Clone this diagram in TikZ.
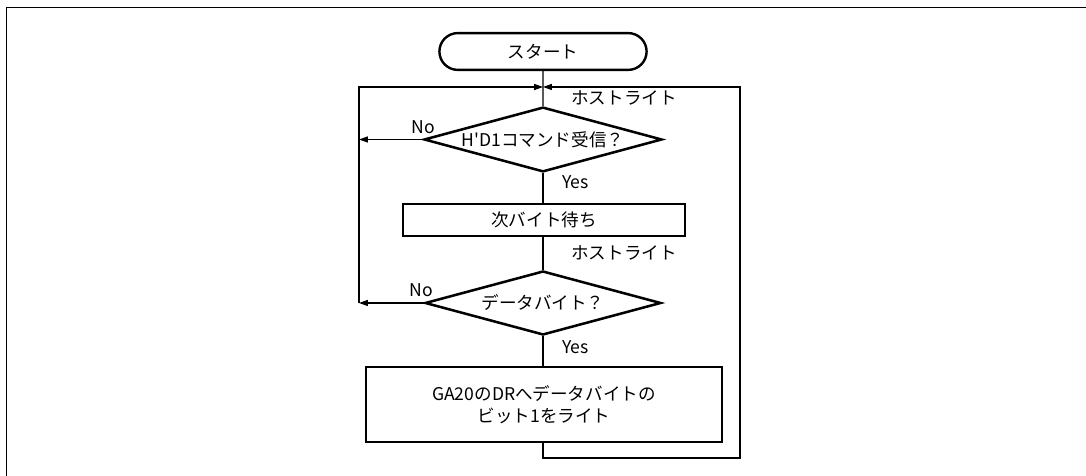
\documentclass[tikz,border=0pt]{standalone}
\usepackage{fontspec}
\setmainfont{Noto Sans CJK JP}
\usepackage{tikz}
\usetikzlibrary{arrows.meta,shapes.geometric,shapes.misc}

\begin{document}
\begin{tikzpicture}[
  x=1cm, y=1cm,
  txt/.style={font=\fontsize{12.5}{15.6}\selectfont, inner sep=0pt},
  termbox/.style={rounded rectangle, draw, line width=1.7pt, minimum width=5.18cm, minimum height=0.92cm, txt},
  procbox/.style={rectangle, draw, line width=1.8pt, align=center, txt},
  decision/.style={diamond, draw, line width=1.8pt, inner sep=0pt, minimum width=5.95cm, minimum height=1.62cm},
  tag/.style={txt, anchor=west},
  line/.style={line width=0.8pt},
  arrow/.style={line, -{Triangle[length=2.2mm, width=1.5mm]}},
  frame/.style={line width=1.4pt}
]
\useasboundingbox (0,0) rectangle (27.15,11.9);
\draw[frame] (0.1625,0) -- (0.1625,11.7125) -- (27.15,11.7125);

\coordinate (jn) at (13.575,9.725);
\coordinate (lp) at (8.975,9.725);
\coordinate (rp) at (18.5,9.725);
\coordinate (bt) at (13.575,0.45);

\node[termbox] (start) at (13.575,10.6125) {スタート};
\node[decision, label={[txt]center:H\textquotesingle D1コマンド受信？}] (d1) at (13.575,8.4125) {};
\node[procbox, minimum width=7.05cm, minimum height=0.8cm] (b1) at (13.6,6.4) {次バイト待ち};
\node[decision, minimum width=5.9cm, minimum height=1.6cm, label={[txt]center:データバイト？}] (d2) at (13.575,4.325) {};
\node[procbox, minimum width=8.9cm, minimum height=1.875cm] (b2) at (13.6,1.7875) {GA20のDRへデータバイトの\\ビット1をライト};

\node[tag] (w1) at (14.275,9.45) {ホストライト};
\node[tag] (w2) at (14.275,5.575) {ホストライト};
\node[txt] (n1) at (10.575,8.725) {No};
\node[txt] (n2) at (10.525,4.65) {No};
\node[tag] (y1) at (14.05,7.35) {Yes};
\node[tag] (y2) at (14.05,3.225) {Yes};

\draw[line] (start) -- (d1);
\draw[line] (d1) -- (d1.south |- b1.north);
\draw[line] (d1.south |- b1.south) -- (d2);
\draw[line] (d2) -- (d2.south |- b2.north);
\draw[arrow] (d1.west) -- (d1.west -| lp);
\draw[arrow] (d2.west) -- (d2.west -| lp);
\draw[arrow] (d2.west -| lp) -- (lp) -- (jn);
\draw[arrow] (b2.south -| bt) -- (bt) -- (bt -| rp) -- (rp) -- (jn);
\end{tikzpicture}
\end{document}
